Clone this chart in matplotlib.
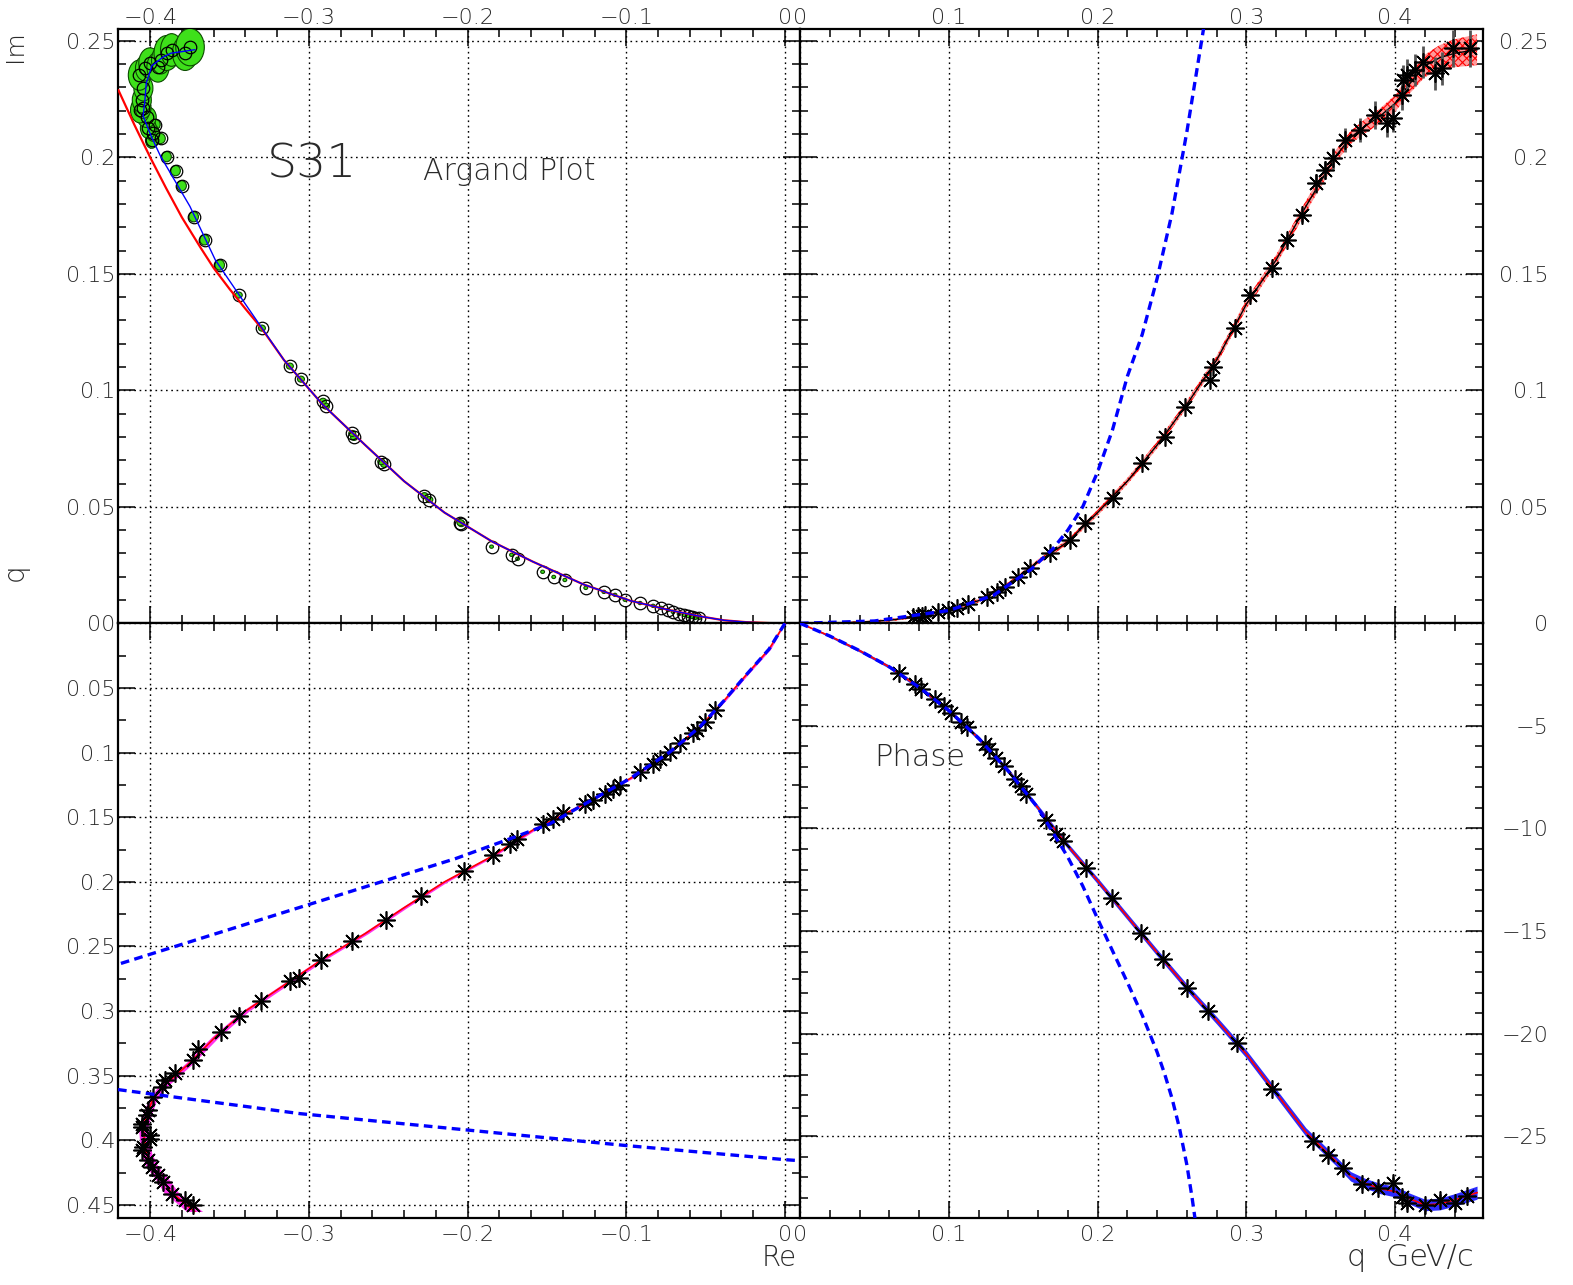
import numpy as np
import matplotlib
matplotlib.use("Agg")
import matplotlib.pyplot as plt
from matplotlib.patches import Ellipse
from matplotlib.ticker import MultipleLocator, FixedLocator, FixedFormatter

plt.rcParams['font.family'] = ['DejaVu Sans']
plt.rcParams['font.weight'] = 'light'
plt.rcParams['hatch.linewidth'] = 0.8

# fitted S31 amplitude, sampled in q (GeV/c)
fit_q = [0, .02, .04, .06, .08, .10, .12, .14, .16, .18, .20, .22, .24, .26, .28, .30,
         .32, .34, .36, .37, .38, .39, .40, .41, .42, .43, .44, .455]
fit_re = [0, -.010, -.0245, -.0385, -.0535, -.073, -.0975, -.127, -.159, -.1843, -.2145, -.240,
          -.2645, -.2915, -.3157, -.340, -.359, -.375, -.3935, -.399, -.402, -.4045, -.4035,
          -.4025, -.399, -.3925, -.387, -.372]
fit_im = [0, .0001, .0005, .0013, .003, .0057, .0097, .0167, .0265, .035, .0475, .061, .0765,
          .094, .113, .137, .156, .179, .2005, .2085, .2135, .2178, .2232, .2318, .2393, .2428,
          .2447, .2462]
fit_ph = [0, -.62, -1.33, -2.12, -3.12, -4.25, -5.6, -7.2, -9.0, -10.85, -12.55, -14.3, -16.05,
          -17.75, -19.35, -21.0, -22.9, -24.8, -26.2, -26.95, -27.3, -27.55, -27.7, -28.05,
          -28.35, -28.3, -28.1, -27.75]
# error bands of the fit
im_band = [0, .0003, .0004, .0005, .0006, .0007, .0008, .0009, .001, .0011, .0013, .0014, .0015,
           .0016, .0018, .002, .0022, .0024, .0026, .0028, .003, .0033, .0036, .0042, .0048,
           .0054, .006, .0066]
re_band = [0, .001, .001, .001, .0011, .0012, .0013, .0014, .0015, .0016, .0017, .0018, .0019,
           .002, .0021, .0022, .0023, .0024, .0026, .0027, .0028, .003, .0032, .0035, .0038,
           .0042, .0046, .005]
ph_band = [0, .06, .07, .08, .09, .1, .11, .12, .13, .14, .15, .15, .16, .17, .18, .19, .2, .21,
           .22, .23, .24, .25, .26, .27, .28, .29, .3, .32]

# Argand plot: red alternative solution
alt_re = [0, -.010, -.0245, -.0385, -.0535, -.073, -.0975, -.127, -.159, -.1843, -.2145, -.240,
          -.2645, -.2915, -.3157, -.33, -.34, -.35, -.36, -.3686, -.38, -.39, -.40, -.41, -.42]
alt_im = [0, .0001, .0005, .0013, .003, .0057, .0097, .0167, .0265, .035, .0475, .061, .0765,
          .094, .113, .1268, .135, .1435, .1525, .1616, .1742, .1868, .2000, .214, .2288]

# low energy model (dashed)
mod_im_q = [0, .05, .10, .13, .155, .17, .18, .19, .20, .21, .22, .23, .24, .25, .26, .2714]
mod_im = [0, .001, .0055, .012, .023, .032, .040, .050, .065, .083, .106, .124, .148, .176, .211,
          .256]
mod_re_q = [0, .02, .04, .06, .08, .10, .12, .14, .155, .1641, .1819, .20, .22, .24, .2637]
mod_re = [0, -.010, -.0245, -.0385, -.0535, -.073, -.0975, -.1265, -.148, -.1675, -.2073, -.2544,
          -.3064, -.3584, -.420]
mod_re2 = [-.4203, -.3056, -.2, -.1, 0, .0095]
mod_re2_q = [.3607, .3793, .392, .404, .4149, .4157]
mod_ph_q = [0, .02, .04, .06, .08, .10, .12, .14, .16, .17, .18, .19, .20, .21, .22, .23, .24,
            .245, .25, .255, .26, .2635, .267]
mod_ph = [0, -.62, -1.33, -2.12, -3.12, -4.25, -5.6, -7.2, -9.0, -10.2, -11.4, -12.8, -14.4,
          -15.96, -17.5, -19.1, -20.9, -21.95, -23.15, -24.6, -26.4, -28.0, -29.8]

# data points: Argand plot with error ellipses
argand_re = [-.054, -.0566, -.0585, -.061, -.0635, -.0667, -.0705, -.0736, -.078, -.0831, -.0913,
             -.1008, -.1071, -.1141, -.1255, -.1387, -.1457, -.1527, -.1685, -.1723, -.1849,
             -.2039, -.2045, -.2241, -.2272, -.2525, -.2544, -.2715, -.2727, -.2892, -.2911,
             -.305, -.312, -.3296, -.3442, -.3562, -.3657, -.3726, -.3802, -.384, -.3897, -.3935,
             -.3967, -.399, -.3982, -.4012, -.4022, -.4064, -.4045, -.4053, -.4043, -.4068,
             -.4033, -.4002, -.3951, -.3932, -.3896, -.3865, -.378, -.3749]
argand_im = [.0023, .0023, .0027, .0031, .0036, .004, .0049, .0057, .0066, .0075, .0087, .0101,
             .0122, .0135, .0152, .0186, .0199, .0221, .0277, .0294, .0329, .0428, .0432, .0531,
             .0548, .0682, .0694, .0798, .0815, .0932, .0953, .1048, .1104, .1267, .1409, .1538,
             .1646, .1745, .1878, .1943, .2003, .2081, .2141, .2074, .2104, .2126, .2173, .2203,
             .2212, .2246, .2297, .2353, .2383, .2405, .2388, .2418, .2448, .2461, .2448, .2473]
argand_dre = [.0012] * 21 + [.0022] * 14 + [.003] * 8 + [
    .004, .004, .005, .006, .006, .005, .006, .006, .007, .006, .007, .007, .006, .008, .007,
    .008, .009]
argand_dim = [.0007] * 21 + [.0013] * 14 + [.0022] * 8 + [
    .0035, .0035, .0045, .0045, .0055, .0045, .0055, .0055, .0065, .0055, .0065, .0065, .006,
    .0075, .007, .0075, .008]

# data points: Im vs q
im_q = [.0762, .0795, .0818, .084, .093, .0997, .1053, .1131, .1255, .1322, .1378, .1467, .1546,
        .168, .1815, .1915, .2106, .2296, .2453, .2587, .2755, .2778, .2923, .3024, .317, .3271,
        .3372, .3468, .3528, .3584, .3663, .3763, .3864, .3943, .3988, .4044, .4055, .4077,
        .4133, .4189, .4267, .4312, .439, .4503]
im_val = [.0028, .0031, .0033, .0035, .0047, .0057, .0067, .0083, .0114, .0136, .0157, .0197,
          .0236, .030, .0358, .0429, .0538, .0687, .0801, .093, .1044, .1101, .1266, .1409, .1524,
          .1645, .1752, .1888, .1946, .1996, .2074, .2117, .2182, .2146, .2167, .2267, .2332,
          .2353, .2375, .241, .2361, .2382, .2468, .2468]
im_err = [.0005] * 16 + [.001] * 6 + [.0015, .002, .002, .0025, .003, .004, .004, .0045, .005,
                                       .005, .006, .006, .006, .0065, .0065, .007, .007, .007,
                                       .007, .007, .008, .008]

# data points: Re vs q
re_q = [.0671, .0762, .0826, .0852, .0929, .0994, .1053, .1085, .115, .1254, .128, .1319, .137,
        .1396, .1468, .1512, .1551, .1667, .1711, .1796, .1917, .2111, .2297, .246, .2607, .2747,
        .277, .2918, .3034, .3158, .329, .338, .3478, .3535, .3587, .3664, .3767, .3806, .387,
        .3896, .396, .3986, .4051, .4077, .4154, .4206, .427, .4322, .4412, .4464, .4502]
re_val = [-.0441, -.0504, -.0557, -.0578, -.066, -.0724, -.0787, -.0829, -.0913, -.104, -.1082,
          -.1134, -.1207, -.1259, -.1396, -.1459, -.1522, -.1689, -.1732, -.1837, -.2023, -.2291,
          -.2513, -.2728, -.2924, -.3063, -.312, -.3303, -.3442, -.3556, -.3701, -.3728, -.3844,
          -.3907, -.3928, -.398, -.4012, -.4022, -.4054, -.4054, -.4001, -.4001, -.4043, -.4054,
          -.4012, -.399, -.3949, -.3917, -.3864, -.378, -.3728]

# data points: phase (deg) vs q
ph_q = [.0665, .0772, .0813, .0907, .0968, .1015, .1085, .1123, .124, .127, .132, .1372, .1446,
        .1487, .152, .1655, .1722, .177, .1925, .21, .2289, .2437, .2599, .2741, .2936, .3172,
        .3449, .355, .3651, .378, .3884, .3985, .4044, .4077, .42, .4301, .4402, .4481]
ph_val = [-2.44, -2.98, -3.2, -3.7, -4.05, -4.35, -4.8, -5.05, -5.9, -6.15, -6.55, -6.95, -7.6,
          -7.95, -8.3, -9.6, -10.25, -10.6, -11.95, -13.4, -15.08, -16.35, -17.77, -18.9, -20.46,
          -22.71, -25.25, -25.89, -26.57, -27.34, -27.54, -27.29, -27.94, -28.27, -28.35, -28.1,
          -28.27, -27.91]
ph_err = [.05] * 20 + [.1] * 6 + [.15, .15, .2, .25, .25, .3, .3, .3, .3, .3, .3, .3]

# axis ticks and labels
re_ticks = [-.4, -.3, -.2, -.1, 0]
re_labels = ['\u22120.4', '\u22120.3', '\u22120.2', '\u22120.1', '0']
q_ticks = [0, .1, .2, .3, .4]
q_labels = ['0', '0.1', '0.2', '0.3', '0.4']
im_ticks = [0, .05, .10, .15, .20, .25]
im_labels_left = ['00', '0.05', '0.1', '0.15', '0.2', '0.25']
im_labels_right = ['', '0.05', '0.1', '0.15', '0.2', '0.25']
qy_ticks = [0, .05, .10, .15, .20, .25, .30, .35, .40, .45]
qy_labels = ['', '0.05', '0.1', '0.15', '0.2', '0.25', '0.3', '0.35', '0.4', '0.45']
ph_ticks = [0, -5, -10, -15, -20, -25]
ph_labels = ['0', '\u22125', '\u221210', '\u221215', '\u221220', '\u221225']

W, H = 1573, 1285
fig = plt.figure(figsize=(W / 100, H / 100), dpi=100)


def box(x0, y0, x1, y1):
    return [x0 / W, 1 - y1 / H, (x1 - x0) / W, (y1 - y0) / H]


ax_tl = fig.add_axes(box(118, 29, 800, 623.3))
ax_tr = fig.add_axes(box(800, 29, 1483, 623.3))
ax_bl = fig.add_axes(box(118, 623.3, 800, 1217.7))
ax_br = fig.add_axes(box(800, 623.3, 1483, 1217.7))

ax_tl.set_xlim(-0.4203, 0.0095)
ax_tl.set_ylim(0, 0.2551)
ax_tr.set_xlim(0, 0.459)
ax_tr.set_ylim(0, 0.2551)
ax_bl.set_xlim(-0.4203, 0.0095)
ax_bl.set_ylim(0.4598, 0)
ax_br.set_xlim(0, 0.459)
ax_br.set_ylim(-28.97, 0)


def frame(ax, xt, xl, xminor, yt, yl, yminor):
    ax.xaxis.set_major_locator(FixedLocator(xt))
    ax.xaxis.set_major_formatter(FixedFormatter(xl))
    ax.xaxis.set_minor_locator(MultipleLocator(xminor))
    ax.yaxis.set_major_locator(FixedLocator(yt))
    ax.yaxis.set_major_formatter(FixedFormatter(yl))
    ax.yaxis.set_minor_locator(MultipleLocator(yminor))
    ax.tick_params(which='both', direction='in', top=True, right=True, width=1.1,
                   labelsize=16, labelcolor='#2a2a2a')
    ax.tick_params(which='major', length=12)
    ax.tick_params(which='minor', length=6)
    for sp in ax.spines.values():
        sp.set_linewidth(1.6)
    ax.grid(True, which='major', color='black', lw=1.0, ls=(0, (1.2, 2.6)))
    ax.set_axisbelow(True)


frame(ax_tl, re_ticks, re_labels, 0.02, im_ticks, im_labels_left, 0.01)
frame(ax_tr, q_ticks, q_labels, 0.02, im_ticks, im_labels_right, 0.01)
frame(ax_bl, re_ticks, re_labels, 0.02, qy_ticks, qy_labels, 0.025)
frame(ax_br, q_ticks, q_labels, 0.02, ph_ticks, ph_labels, 1)

ax_tl.tick_params(labeltop=True, labelbottom=False, labelleft=True, labelright=False)
ax_tr.tick_params(labeltop=True, labelbottom=False, labelleft=False, labelright=True)
ax_bl.tick_params(labeltop=False, labelbottom=True, labelleft=True, labelright=False)
ax_br.tick_params(labeltop=False, labelbottom=True, labelleft=False, labelright=True)
for ax in (ax_tl, ax_tr):
    ax.tick_params(axis='x', which='major', pad=1)
for ax in (ax_bl, ax_br):
    ax.tick_params(axis='x', which='major', pad=5)
for ax in (ax_tl, ax_bl):
    ax.tick_params(axis='y', which='major', pad=2)
for ax in (ax_tr, ax_br):
    ax.tick_params(axis='y', which='major', pad=47)
    for tick in ax.yaxis.get_major_ticks():
        tick.label2.set_horizontalalignment('right')

# Argand plot
for x, y, dx, dy in zip(argand_re, argand_im, argand_dre, argand_dim):
    ax_tl.add_patch(Ellipse((x, y), 2 * dx, 2 * dy, facecolor='#3ee01a',
                            edgecolor='#0b4a00', lw=0.8, zorder=3))
ax_tl.plot(argand_re, argand_im, ls='none', marker='o', ms=9, mfc='none', mec='black',
           mew=0.9, zorder=4)
ax_tl.plot(alt_re, alt_im, color='red', lw=1.6, zorder=5)
ax_tl.plot(fit_re, fit_im, color='blue', lw=1.0, zorder=6)

star = (8, 2, 0)
dashed = dict(color='blue', lw=2.4, ls=(0, (2.6, 1.6)), zorder=6)

# Im vs q
fq = np.array(fit_q)
ax_tr.fill_between(fq, np.array(fit_im) - im_band, np.array(fit_im) + im_band,
                   facecolor='#ff9a9a', edgecolor='red', hatch='xxxx', lw=0, zorder=3)
ax_tr.plot(fit_q, fit_im, color='black', lw=1.0, zorder=4)
ax_tr.errorbar(im_q, im_val, yerr=im_err, fmt='none', ecolor='#555555', elinewidth=2,
               zorder=4)
ax_tr.plot(im_q, im_val, ls='none', marker=star, ms=13, mec='black', mew=1.2, zorder=5)
ax_tr.plot(mod_im_q, mod_im, **dashed)

# Re vs q
ax_bl.fill_betweenx(fq, np.array(fit_re) - re_band, np.array(fit_re) + re_band,
                    color='#ff33ee', lw=0, zorder=3)
ax_bl.plot(fit_re, fit_q, color='red', lw=1.2, zorder=4)
ax_bl.plot(re_val, re_q, ls='none', marker=star, ms=13, mec='black', mew=1.2, zorder=5)
ax_bl.plot(mod_re, mod_re_q, **dashed)
ax_bl.plot(mod_re2, mod_re2_q, **dashed)

# phase vs q
ax_br.fill_between(fq, np.array(fit_ph) - ph_band, np.array(fit_ph) + ph_band,
                   color='#2b2bff', lw=0, zorder=3)
ax_br.plot(fit_q, fit_ph, color='red', lw=1.2, zorder=4)
ax_br.errorbar(ph_q, ph_val, yerr=ph_err, fmt='none', ecolor='#555555', elinewidth=2,
               zorder=4)
ax_br.plot(ph_q, ph_val, ls='none', marker=star, ms=13, mec='black', mew=1.2, zorder=5)
ax_br.plot(mod_ph_q, mod_ph, **dashed)


def ftext(x, y, s, size, **kw):
    fig.text(x / W, 1 - y / H, s, fontsize=size, ha='center', va='center',
             color='#2a2a2a', **kw)


ftext(15, 46, 'Im', 18, rotation=90)
ftext(15, 572, 'q', 20, rotation=90)
ftext(779, 1258, 'Re', 20)
ftext(1410, 1258, 'q  GeV/c', 22)
ftext(312, 164, 'S31', 34)
ftext(509, 171, 'Argand Plot', 21.5)
ftext(920, 758, 'Phase', 22)

fig.savefig('out.png', dpi=100)
